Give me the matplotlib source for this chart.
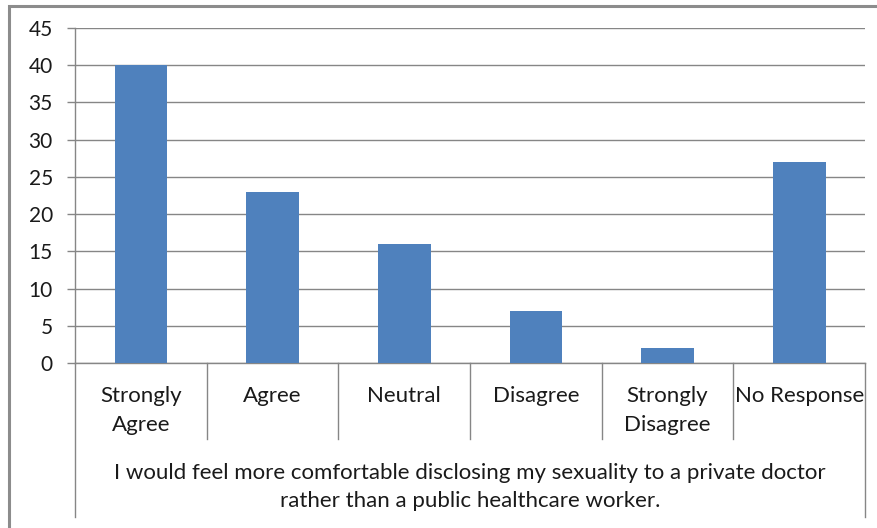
import matplotlib.pyplot as plt
from matplotlib.patches import Rectangle

# survey responses
categories = ['Strongly\nAgree', 'Agree', 'Neutral', 'Disagree', 'Strongly\nDisagree', 'No Response']
counts = [40, 23, 16, 7, 2, 27]
y_ticks = [0, 5, 10, 15, 20, 25, 30, 35, 40, 45]
axis_title = ('I would feel more comfortable disclosing my sexuality to a private doctor\n'
              'rather than a public healthcare worker.')

plt.rcParams['font.family'] = ['Lato', 'DejaVu Sans']

W, H = 877, 528
fig = plt.figure(figsize=(W / 100, H / 100), dpi=100)

# outer chart border
fig.patches.append(Rectangle((9 / W, -0.1), 1.2, (H - 6) / H + 0.1, transform=fig.transFigure,
                             fill=False, edgecolor='#8c8c8c', linewidth=2.2))

ax_h = 335
ax = fig.add_axes([75 / W, 165 / H, 790 / W, ax_h / H])
x = range(len(categories))
ax.bar(x, counts, width=0.4, color='#4f81bd', zorder=3)

ax.set_xlim(-0.5, len(categories) - 0.5)
ax.set_ylim(0, 45)
ax.set_yticks(y_ticks)
ax.tick_params(axis='y', length=6, width=1, color='#868686', pad=10, labelsize=15, labelcolor='#1a1a1a')
ax.yaxis.grid(True, color='#868686', linewidth=1)
ax.set_axisbelow(True)

for s in ['top', 'right']:
    ax.spines[s].set_visible(False)
for s in ['left', 'bottom']:
    ax.spines[s].set_color('#868686')
    ax.spines[s].set_linewidth(1)

ax.set_xticks([])
tr = ax.get_xaxis_transform()
for i, lab in enumerate(categories):
    for k, line in enumerate(lab.split('\n')):
        ax.text(i, -(39 + 29 * k) / ax_h, line, transform=tr, ha='center', va='baseline',
                fontsize=16, color='#1a1a1a')

# category dividers under the axis
for b in range(len(categories) + 1):
    edge = b - 0.5
    low = -0.46 if b in (0, len(categories)) else -0.227
    ax.plot([edge, edge], [0, low], transform=tr, color='#868686', linewidth=1, clip_on=False)

for k, line in enumerate(axis_title.split('\n')):
    ax.text(0.5, -(116 + 28 * k) / ax_h, line, transform=ax.transAxes, ha='center', va='baseline',
            fontsize=16, color='#1a1a1a')

fig.savefig('out.png', dpi=100)
